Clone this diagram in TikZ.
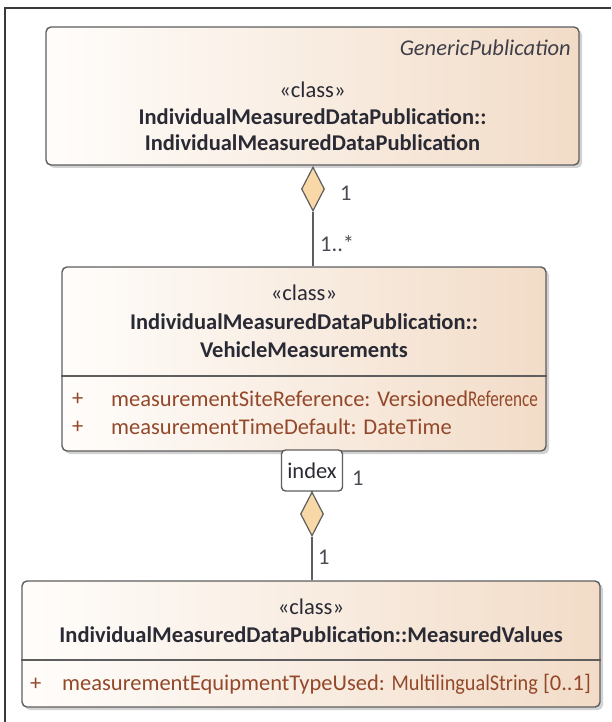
\documentclass[tikz,border=0pt]{standalone}
\usepackage{fontspec}
\setmainfont{Carlito}
\usetikzlibrary{shapes.geometric,shadows}
\definecolor{fillL}{HTML}{FFFDFB}
\definecolor{fillR}{HTML}{F2DCC8}
\definecolor{edge}{HTML}{5E5E5E}
\definecolor{txt}{HTML}{2A2A35}
\definecolor{attr}{HTML}{93482A}
\definecolor{dia}{HTML}{F8D8A6}
\definecolor{frame}{HTML}{3A3A3A}
\tikzset{
  classbox/.style={draw=edge, line width=1.4pt, rounded corners=5pt, left color=fillL, right color=fillR,
    drop shadow={opacity=0.35, shadow xshift=3pt, shadow yshift=-3pt}, inner sep=0pt},
  sepline/.style={draw=edge, line width=1.4pt},
  conn/.style={draw=edge, line width=1.5pt},
  agg/.style={diamond, draw=edge, line width=1.2pt, fill=dia, minimum width=23pt, minimum height=44pt, inner sep=0pt},
  qual/.style={draw=edge, line width=1.4pt, fill=white, rounded corners=4pt, minimum width=61pt, minimum height=41pt, inner sep=0pt,
    font=\fontsize{22.5}{27}\selectfont, text=txt},
  stereo/.style={font=\fontsize{22.5}{27}\selectfont, text=txt, inner sep=0pt},
  cname/.style={font=\fontsize{22.5}{27}\selectfont\bfseries, text=txt, inner sep=0pt},
  attrtxt/.style={font=\fontsize{22.5}{27}\selectfont, text=attr, inner sep=0pt, anchor=west},
  mult/.style={font=\fontsize{22.5}{27}\selectfont, text=txt!85, inner sep=0pt},
}
\begin{document}
\begin{tikzpicture}[x=1pt,y=-1pt]
\useasboundingbox (0,0) rectangle (611,722);
\fill[white] (0,0) rectangle (611,722);
% frame
\coordinate (fc) at (5,8);
\coordinate (fb) at (5,722);
\coordinate (fr) at (611,8);
\draw[frame, line width=1.5pt] (fb) -- (fc) -- (fr);

% box 1
\node[classbox, minimum width=533pt, minimum height=138pt] (b1) at (312.5,96) {};
\node[stereo, font=\fontsize{22.5}{27}\selectfont\itshape, anchor=east, text=txt!90] (g1) at (571,48) {GenericPublication};
\node[stereo] (s1) at (312.5,90) {«class»};
\node[cname] (n1a) at (312.5,117) {IndividualMeasuredDataPublication::};
\node[cname] (n1b) at (312.5,143) {IndividualMeasuredDataPublication};

% box 2
\node[classbox, minimum width=484pt, minimum height=184pt] (b2) at (304,359) {};
\node[stereo] (s2) at (304,293) {«class»};
\node[cname] (n2a) at (304,322) {IndividualMeasuredDataPublication::};
\node[cname] (n2b) at (304,350) {VehicleMeasurements};
\coordinate (sep2) at (0,376);
\draw[sepline] (b2.west |- sep2) -- (b2.east |- sep2);
\node[attrtxt] (p2a) at (72,399) {+};
\node[attrtxt] (a2a) at (111,399) {measurementSiteReference: Versioned\scalebox{0.76}[1]{Reference}};
\node[attrtxt] (p2b) at (72,427) {+};
\node[attrtxt] (a2b) at (111,427) {measurementTimeDefault: DateTime};

% box 3
\node[classbox, minimum width=578pt, minimum height=126pt] (b3) at (311,644) {};
\node[stereo] (s3) at (311,607) {«class»};
\node[cname] (n3) at (311,635) {IndividualMeasuredDataPublication::MeasuredValues};
\coordinate (sep3) at (0,660);
\draw[sepline] (b3.west |- sep3) -- (b3.east |- sep3);
\node[attrtxt] (p3) at (30,684) {+};
\node[attrtxt] (a3) at (62,684) {measurementEquipmentTypeUsed: \scalebox{0.9}[1]{MultilingualString} [0..1]};

% upper aggregation
\node[agg] (d1) at (313,189) {};
\draw[conn] (d1.south) -- (d1.south |- b2.north);
\node[mult, anchor=west] (m1) at (340,193) {1};
\node[mult, anchor=west] (m2) at (320,244) {1..*};

% lower aggregation with qualifier
\node[qual] (idx) at (312,470.5) {index};
\node[agg] (d2) at (312,514) {};
\draw[conn] (idx.south) -- (d2.north);
\draw[conn] (d2.south) -- (d2.south |- b3.north);
\node[mult, anchor=west] (m3) at (352,478) {1};
\node[mult, anchor=west] (m4) at (318,557) {1};
\end{tikzpicture}
\end{document}
